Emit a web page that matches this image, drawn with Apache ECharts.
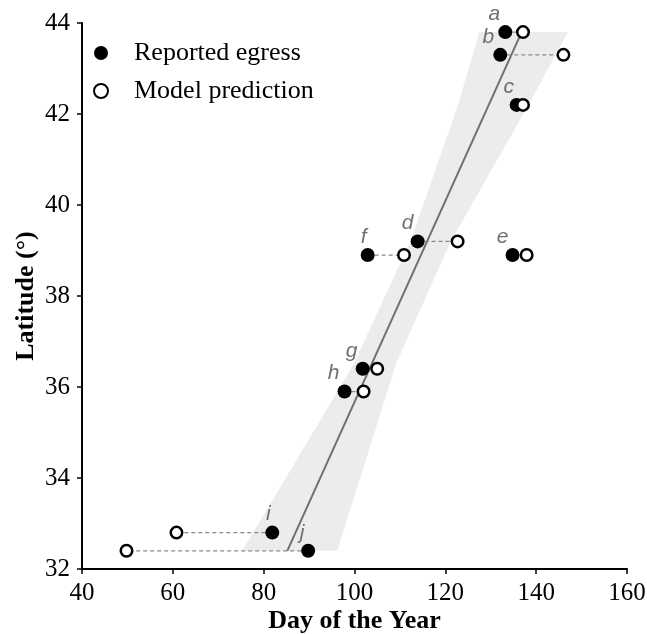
<!DOCTYPE html>
<html><head><meta charset="utf-8">
<script src="https://cdn.jsdelivr.net/npm/echarts@6/dist/echarts.min.js"></script>
<style>html,body{margin:0;padding:0;background:#fff}#c{width:647px;height:634px}</style>
</head><body><div id="c"></div>
<script>
// ---- data ----
const sites = ['a','b','c','d','e','f','g','h','i','j'];
const latitude = [43.8, 43.3, 42.2, 39.2, 38.9, 38.9, 36.4, 35.9, 32.8, 32.4];
const reportedDay = [133.2, 132.1, 135.7, 113.9, 134.8, 102.9, 101.8, 97.8, 81.9, 89.8];
const modelDay = [137.1, 146.0, 137.1, 122.7, 137.9, 110.9, 105.0, 102.0, 60.8, 49.8];
const fitLat = [32.4, 43.8];
const fitDay = [85.2, 136.8];
const bandLat = [32.4, 34.3, 36.5, 39.2, 42.2, 43.8];
const bandLow = [75.3, 86.7, 99.8, 112.3, 122.8, 127.5];
const bandHigh = [96.2, 102.2, 109.1, 121.2, 138.3, 147.0];
const xRange = [40, 160, 20];
const yRange = [32, 44, 2];

// ---- styles ----
const serif = '"Liberation Serif", "Times New Roman", serif';
const labelOffsets = {a:[-11,-18], b:[-12,-18], c:[-8,-18], d:[-10,-18], e:[-10,-18],
  f:[-4,-18], g:[-11,-18], h:[-11,-18], i:[-4,-18], j:[-6,-18]};

const chart = echarts.init(document.getElementById('c'), null, {renderer:'canvas'});

const bandPoly = [];
bandLat.forEach((la, k) => bandPoly.push([bandLow[k], la]));
for (let k = bandLat.length - 1; k >= 0; k--) bandPoly.push([bandHigh[k], bandLat[k]]);

const reportedData = sites.map((s, k) => ({
  value: [reportedDay[k], latitude[k]],
  label: {offset: labelOffsets[s]}
}));
const modelData = sites.map((s, k) => [modelDay[k], latitude[k]]);
const dashData = sites.map((s, k) => [reportedDay[k], modelDay[k], latitude[k]]);
const fitData = fitDay.map((d, k) => [d, fitLat[k]]);

const option = {
  animation: false,
  backgroundColor: '#fff',
  grid: {left: 82, right: 20, top: 23, bottom: 65, containLabel: false, outerBoundsMode: 'none'},
  legend: {
    orient: 'vertical', left: 93, top: 40, itemGap: 12, padding: 0,
    itemWidth: 14, itemHeight: 14,
    data: ['Reported egress', 'Model prediction'],
    textStyle: {fontFamily: serif, fontSize: 26, color: '#000', padding: [0,0,0,21], lineHeight: 26}
  },
  xAxis: {
    type: 'value', min: xRange[0], max: xRange[1], interval: xRange[2],
    name: 'Day of the Year', nameLocation: 'middle', nameGap: 39, nameMoveOverlap: false,
    nameTextStyle: {fontFamily: serif, fontSize: 26, fontWeight: 'bold', color: '#000'},
    axisLine: {show: true, onZero: false, lineStyle: {color: '#000', width: 2}},
    axisTick: {show: true, length: 5, lineStyle: {color: '#000', width: 1.5}},
    axisLabel: {fontFamily: serif, fontSize: 25, color: '#000', margin: 12},
    splitLine: {show: false}
  },
  yAxis: {
    type: 'value', min: yRange[0], max: yRange[1], interval: yRange[2],
    name: 'Latitude (°)', nameLocation: 'middle', nameGap: 43, nameRotate: 90, nameMoveOverlap: false,
    nameTextStyle: {fontFamily: serif, fontSize: 26, fontWeight: 'bold', color: '#000'},
    axisLine: {show: true, onZero: false, lineStyle: {color: '#000', width: 2}},
    axisTick: {show: true, length: 5, lineStyle: {color: '#000', width: 1.5}},
    axisLabel: {fontFamily: serif, fontSize: 25, color: '#000', margin: 12},
    splitLine: {show: false}
  },
  series: [
    {
      type: 'custom', name: 'band', z: 1, silent: true,
      data: [0],
      renderItem: function (params, api) {
        return {type: 'polygon', shape: {points: bandPoly.map(p => api.coord(p))},
          style: {fill: '#ececec', stroke: null}};
      }
    },
    {
      type: 'line', name: 'fit', z: 2, data: fitData, symbol: 'none', silent: true,
      lineStyle: {color: '#707070', width: 2}
    },
    {
      type: 'custom', name: 'dash', z: 3, silent: true,
      data: dashData,
      encode: {x: [0, 1], y: 2},
      renderItem: function (params, api) {
        const p1 = api.coord([api.value(0), api.value(2)]);
        const p2 = api.coord([api.value(1), api.value(2)]);
        return {type: 'line', shape: {x1: p1[0], y1: p1[1], x2: p2[0], y2: p2[1]},
          style: {stroke: '#8a8a8a', lineWidth: 1.2, lineDash: [4, 3]}};
      }
    },
    {
      type: 'scatter', name: 'Reported egress', z: 4, data: reportedData,
      symbol: 'circle', symbolSize: 14,
      itemStyle: {color: '#000', opacity: 1},
      label: {
        show: true, position: 'inside',
        formatter: p => sites[p.dataIndex],
        fontFamily: '"Liberation Sans", Arial, sans-serif', fontStyle: 'italic',
        fontSize: 21, color: '#707070'
      }
    },
    {
      type: 'scatter', name: 'Model prediction', z: 5, data: modelData,
      symbol: 'circle', symbolSize: 11.5,
      itemStyle: {color: '#fff', borderColor: '#000', borderWidth: 2.5, opacity: 1}
    }
  ]
};
chart.setOption(option);
</script>
</body></html>
